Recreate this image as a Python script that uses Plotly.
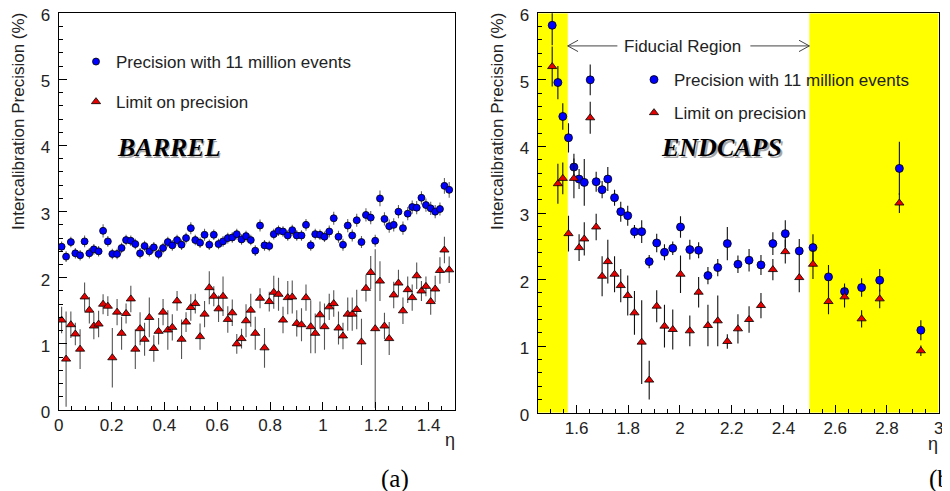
import plotly.graph_objects as go

# ---------------- data ----------------
barrel_eta = [0.011, 0.028, 0.046, 0.063, 0.081, 0.098, 0.116, 0.133, 0.151, 0.168,
              0.186, 0.203, 0.221, 0.238, 0.255, 0.273, 0.290, 0.308, 0.325, 0.343,
              0.360, 0.378, 0.395, 0.413, 0.430, 0.448, 0.465, 0.482, 0.500, 0.517,
              0.535, 0.552, 0.570, 0.587, 0.605, 0.622, 0.640, 0.657, 0.674, 0.692,
              0.709, 0.727, 0.744, 0.762, 0.779, 0.797, 0.814, 0.832, 0.849, 0.867,
              0.884, 0.901, 0.919, 0.936, 0.954, 0.971, 0.989, 1.006, 1.024, 1.041,
              1.059, 1.076, 1.094, 1.111, 1.128, 1.146, 1.163, 1.181, 1.198, 1.216,
              1.233, 1.251, 1.268, 1.286, 1.303, 1.321, 1.338, 1.355, 1.373, 1.390,
              1.408, 1.425, 1.443, 1.460, 1.478]

barrel_prec = [2.47, 2.32, 2.54, 2.37, 2.34, 2.55, 2.37, 2.43, 2.40, 2.71,
               2.55, 2.36, 2.36, 2.45, 2.57, 2.56, 2.51, 2.37, 2.48, 2.40,
               2.46, 2.36, 2.45, 2.54, 2.49, 2.57, 2.50, 2.60, 2.75, 2.57,
               2.53, 2.65, 2.50, 2.65, 2.51, 2.55, 2.60, 2.61, 2.66, 2.58,
               2.63, 2.57, 2.41, 2.79, 2.49, 2.48, 2.66, 2.71, 2.70, 2.64,
               2.72, 2.64, 2.64, 2.80, 2.49, 2.66, 2.65, 2.62, 2.70, 2.90,
               2.62, 2.50, 2.79, 2.64, 2.87, 2.54, 2.95, 2.91, 2.56, 3.20,
               2.89, 2.78, 2.80, 3.00, 2.75, 2.97, 3.07, 3.06, 3.21, 3.10,
               3.05, 3.00, 3.04, 3.39, 3.33]

barrel_prec_err = [0.08, 0.08, 0.08, 0.08, 0.08, 0.09, 0.08, 0.08, 0.08, 0.10,
                   0.08, 0.08, 0.08, 0.08, 0.08, 0.08, 0.08, 0.08, 0.08, 0.08,
                   0.08, 0.08, 0.08, 0.08, 0.08, 0.08, 0.08, 0.08, 0.09, 0.08,
                   0.08, 0.09, 0.08, 0.08, 0.08, 0.08, 0.08, 0.08, 0.08, 0.08,
                   0.08, 0.08, 0.08, 0.09, 0.08, 0.08, 0.08, 0.08, 0.08, 0.08,
                   0.08, 0.08, 0.08, 0.09, 0.08, 0.08, 0.08, 0.08, 0.09, 0.10,
                   0.09, 0.09, 0.10, 0.09, 0.10, 0.09, 0.10, 0.10, 0.09, 0.12,
                   0.10, 0.10, 0.10, 0.10, 0.10, 0.10, 0.10, 0.10, 0.10, 0.10,
                   0.10, 0.10, 0.10, 0.12, 0.12]

barrel_limit = [1.36, 0.77, 1.29, 1.15, 0.92, 1.71, 1.51, 1.27, 1.30, 1.60,
                1.57, 0.79, 1.48, 1.16, 1.46, 1.68, 0.92, 1.23, 1.07, 1.40,
                0.93, 1.19, 1.48, 1.21, 1.25, 1.65, 1.07, 1.33, 1.55, 1.61,
                1.11, 1.45, 1.85, 1.72, 1.53, 1.72, 1.37, 1.47, 1.00, 1.08,
                1.35, 1.51, 1.16, 1.69, 0.94, 1.64, 1.78, 1.75, 1.36, 1.70,
                1.71, 1.31, 1.29, 1.70, 1.26, 1.16, 1.44, 1.26, 1.56, 1.61,
                1.24, 1.12, 1.45, 1.45, 1.52, 1.03, 1.84, 2.08, 1.23, 1.95,
                1.27, 1.08, 1.74, 1.92, 1.50, 1.82, 1.70, 2.03, 1.80, 1.87,
                1.64, 1.83, 2.11, 2.42, 2.12]

barrel_limit_err = [0.20, 0.72, 0.20, 0.17, 0.30, 0.22, 0.20, 0.20, 0.20, 0.15,
                    0.15, 0.45, 0.20, 0.25, 0.15, 0.20, 0.30, 0.25, 0.25, 0.30,
                    0.20, 0.20, 0.20, 0.30, 0.20, 0.15, 0.30, 0.15, 0.20, 0.15,
                    0.20, 0.20, 0.25, 0.15, 0.20, 0.30, 0.20, 0.20, 0.15, 0.15,
                    0.25, 0.25, 0.25, 0.15, 0.30, 0.15, 0.25, 0.25, 0.20, 0.25,
                    0.25, 0.20, 0.25, 0.20, 0.40, 0.30, 0.20, 0.35, 0.20, 0.20,
                    0.25, 0.20, 0.25, 0.25, 0.30, 0.35, 0.20, 0.25, 1.20, 0.30,
                    0.20, 0.25, 0.20, 0.20, 0.20, 0.20, 0.20, 0.20, 0.15, 0.15,
                    0.20, 0.20, 0.20, 0.20, 0.20]

endcap_eta = [1.506, 1.528, 1.547, 1.569, 1.590, 1.610, 1.630, 1.653, 1.676, 1.699,
              1.721, 1.747, 1.771, 1.798, 1.824, 1.852, 1.881, 1.910, 1.940, 1.972,
              2.002, 2.038, 2.072, 2.108, 2.146, 2.183, 2.224, 2.267, 2.313, 2.359,
              2.407, 2.461, 2.514, 2.574, 2.636, 2.702, 2.772, 2.848, 2.931]

endcap_prec = [5.82, 4.96, 4.45, 4.13, 3.69, 3.51, 3.46, 5.00, 3.47, 3.35,
               3.51, 3.23, 3.02, 2.96, 2.72, 2.72, 2.27, 2.55, 2.41, 2.47,
               2.79, 2.45, 2.44, 2.06, 2.18, 2.54, 2.23, 2.29, 2.22, 2.54,
               2.69, 2.43, 2.48, 2.04, 1.82, 1.88, 1.99, 3.67, 1.24]

endcap_prec_err = [0.30, 0.25, 0.20, 0.22, 0.20, 0.15, 0.35, 0.23, 0.15, 0.13,
                   0.18, 0.12, 0.15, 0.15, 0.10, 0.17, 0.10, 0.14, 0.12, 0.10,
                   0.16, 0.15, 0.12, 0.13, 0.13, 0.25, 0.13, 0.17, 0.15, 0.17,
                   0.20, 0.18, 0.20, 0.18, 0.12, 0.14, 0.17, 0.40, 0.15]

endcap_limit = [5.20, 3.44, 3.52, 2.69, 3.52, 2.48, 2.61, 4.43, 2.79, 2.05,
                2.27, 2.08, 1.91, 1.76, 1.50, 1.06, 0.49, 1.60, 1.30, 1.25,
                2.08, 1.23, 1.81, 1.31, 1.38, 1.07, 1.26, 1.40, 1.61, 2.15,
                2.42, 2.03, 2.23, 1.67, 1.74, 1.41, 1.71, 3.15, 0.93]

endcap_limit_err = [0.30, 0.30, 0.24, 0.27, 0.30, 0.20, 0.25, 0.24, 0.20, 0.30,
                    0.33, 0.27, 0.25, 0.30, 0.33, 0.63, 0.29, 0.24, 0.32, 0.30,
                    0.28, 0.23, 0.23, 0.31, 0.38, 0.11, 0.22, 0.20, 0.19, 0.16,
                    0.18, 0.22, 0.22, 0.19, 0.16, 0.13, 0.14, 0.15, 0.08]

x_ticks_barrel = [0, 0.2, 0.4, 0.6, 0.8, 1, 1.2, 1.4]
x_ticks_endcap = [1.6, 1.8, 2, 2.2, 2.4, 2.6, 2.8, 3]
y_ticks = [0, 1, 2, 3, 4, 5, 6]

non_fiducial_low = [1.45, 1.566]
non_fiducial_high = [2.5, 3.0]

name_prec = "Precision with 11 million events"
name_limit = "Limit on precision"

# ---------------- layout helpers ----------------
# the page body has an 8px default margin, so the figure is offset by 8px
OFF = 8
W, H = 950 - OFF, 491 - OFF
def px(x):
    return (x - OFF) / W
def py(y):
    return 1 - (y - OFF) / H

SANS = "Liberation Sans, Arial, Helvetica, sans-serif"
SERIF = "Liberation Serif, Times New Roman, serif"
TXT = "#222222"

fig = go.Figure()

# barrel
fig.add_trace(go.Scatter(
    x=barrel_eta, y=barrel_prec, mode="markers", name=name_prec,
    marker=dict(symbol="circle", size=7, color="#0000ff", line=dict(color="black", width=0.8)),
    error_y=dict(type="data", array=barrel_prec_err, color="#666666", thickness=1.1, width=0),
    xaxis="x", yaxis="y", legend="legend", legendgroup="a1"))
fig.add_trace(go.Scatter(
    x=barrel_eta, y=barrel_limit, mode="markers", name=name_limit,
    marker=dict(symbol="triangle-up", size=8, color="#e60000", line=dict(color="black", width=0.8)),
    error_y=dict(type="data", array=barrel_limit_err, color="#555555", thickness=1.1, width=0),
    xaxis="x", yaxis="y", legend="legend", legendgroup="a2"))

# endcaps
fig.add_trace(go.Scatter(
    x=endcap_eta, y=endcap_prec, mode="markers", name=name_prec,
    marker=dict(symbol="circle", size=8, color="#0000ff", line=dict(color="black", width=0.8)),
    error_y=dict(type="data", array=endcap_prec_err, color="#111111", thickness=1.1, width=0),
    xaxis="x2", yaxis="y2", legend="legend2", legendgroup="b1"))
fig.add_trace(go.Scatter(
    x=endcap_eta, y=endcap_limit, mode="markers", name=name_limit,
    marker=dict(symbol="triangle-up", size=8, color="#e60000", line=dict(color="black", width=0.8)),
    error_y=dict(type="data", array=endcap_limit_err, color="#111111", thickness=1.1, width=0),
    xaxis="x2", yaxis="y2", legend="legend2", legendgroup="b2"))

axis_common = dict(showline=True, linecolor="black", linewidth=1, mirror=True,
                   ticks="inside", ticklen=8, tickcolor="black", tickwidth=1,
                   showgrid=False, zeroline=False, automargin=False,
                   ticklabeloverflow="allow",
                   tickfont=dict(family=SANS, size=17, color=TXT))

fig.update_layout(
    width=W, height=H,
    margin=dict(l=0, r=0, t=0, b=0, autoexpand=False),
    paper_bgcolor="white", plot_bgcolor="white",
    xaxis=dict(axis_common, domain=[px(58.7), px(455)], range=[0, 1.5],
               tickvals=x_ticks_barrel, anchor="y",
               minor=dict(ticks="inside", ticklen=4, dtick=0.05, tick0=0, tickcolor="black", showgrid=False)),
    yaxis=dict(axis_common, domain=[py(410), py(13.3)], range=[0, 6],
               tickvals=y_ticks, anchor="x", ticklabelstandoff=4, ticklabelshift=2,
               minor=dict(ticks="inside", ticklen=4, dtick=0.2, tick0=0, tickcolor="black", showgrid=False)),
    xaxis2=dict(axis_common, domain=[px(537.7), px(938.7)], range=[1.45, 3.0],
                tickvals=x_ticks_endcap, anchor="y2",
                minor=dict(ticks="inside", ticklen=4, dtick=0.05, tick0=0, tickcolor="black", showgrid=False)),
    yaxis2=dict(axis_common, domain=[py(412.7), py(13.3)], range=[0, 6],
                tickvals=y_ticks, anchor="x2", ticklabelstandoff=4, ticklabelshift=2,
                minor=dict(ticks="inside", ticklen=4, dtick=0.2, tick0=0, tickcolor="black", showgrid=False)),
    legend=dict(x=px(76), y=py(44), xanchor="left", yanchor="top",
                bgcolor="rgba(0,0,0,0)", font=dict(family=SANS, size=17, color=TXT),
                tracegroupgap=15, itemwidth=30),
    legend2=dict(x=px(634), y=py(62), xanchor="left", yanchor="top",
                 bgcolor="rgba(0,0,0,0)", font=dict(family=SANS, size=17, color=TXT),
                 tracegroupgap=8, itemwidth=30),
    showlegend=True,
)

# yellow non-fiducial bands
for lo, hi in (non_fiducial_low, non_fiducial_high):
    fig.add_shape(type="rect", xref="x2", yref="y2", x0=lo, x1=hi, y0=0, y1=6,
                  fillcolor="#ffff00", line=dict(width=0), layer="below")

# fiducial region arrows
yarr = 5.51
arr_col = "#444444"
fig.add_shape(type="line", xref="x2", yref="y2", x0=non_fiducial_low[1], x1=1.758, y0=yarr, y1=yarr,
              line=dict(color=arr_col, width=1))
fig.add_shape(type="line", xref="x2", yref="y2", x0=2.272, x1=non_fiducial_high[0], y0=yarr, y1=yarr,
              line=dict(color=arr_col, width=1))
fig.add_shape(type="path", xref="x2", yref="y2",
              path=f"M {non_fiducial_low[1]+0.04},{yarr+0.085} L {non_fiducial_low[1]},{yarr} L {non_fiducial_low[1]+0.04},{yarr-0.085}",
              line=dict(color=arr_col, width=1))
fig.add_shape(type="path", xref="x2", yref="y2",
              path=f"M {non_fiducial_high[0]-0.04},{yarr+0.085} L {non_fiducial_high[0]},{yarr} L {non_fiducial_high[0]-0.04},{yarr-0.085}",
              line=dict(color=arr_col, width=1))

def ann(text, x, y, size=17, family=SANS, color=TXT, xanchor="center", yanchor="middle", angle=0):
    fig.add_annotation(text=text, x=px(x), y=py(y), xref="paper", yref="paper",
                       showarrow=False, xanchor=xanchor, yanchor=yanchor, textangle=angle,
                       font=dict(family=family, size=size, color=color), borderpad=0)

ann("Fiducial Region", 682.5, 46)
# BARREL / ENDCAPS with slight shadow
ann("<b><i>BARREL</i></b>", 170, 149, size=26, family=SERIF, color="#a8a8a8")
ann("<b><i>BARREL</i></b>", 168.5, 147, size=26, family=SERIF, color="black")
ann("<b><i>ENDCAPS</i></b>", 723, 149, size=26, family=SERIF, color="#a8a8a8")
ann("<b><i>ENDCAPS</i></b>", 721.5, 147, size=26, family=SERIF, color="black")
# axis titles
ann("Intercalibration Precision (%)", 18, 122, angle=-90)
ann("Intercalibration Precision (%)", 497, 122, angle=-90)
ann("η", 450, 440, size=18)
ann("η", 933, 444, size=18)
ann("(a)", 395, 479, size=25, family=SERIF, color="black")
ann("(b)", 927.7, 479, size=25, family=SERIF, color="black", xanchor="left")

fig.write_html("out.html")
